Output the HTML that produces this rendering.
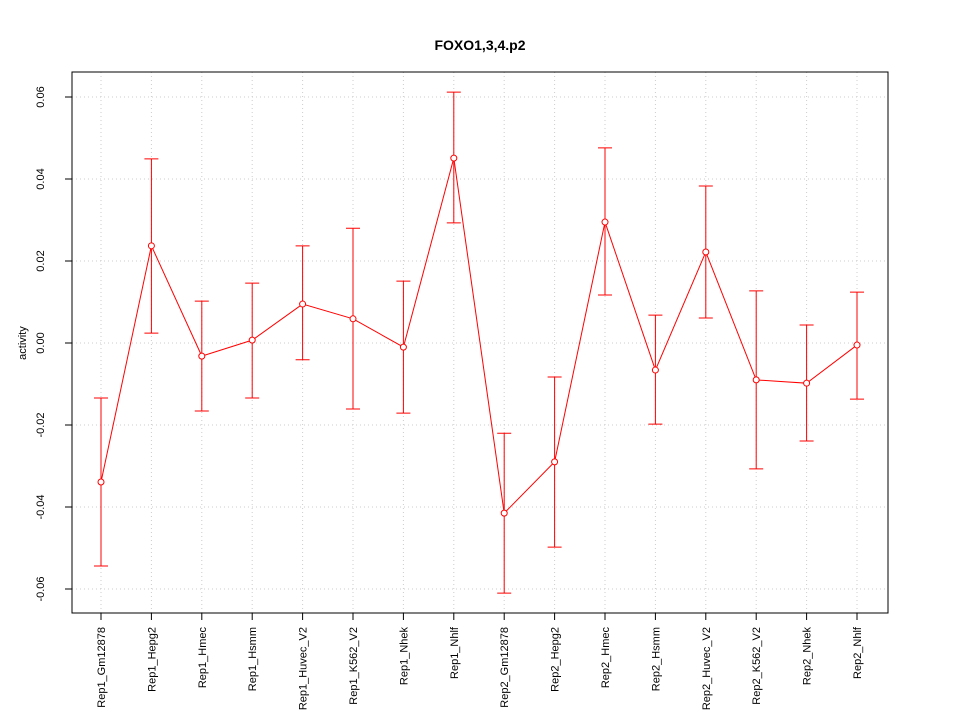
<!DOCTYPE html>
<html><head><meta charset="utf-8"><style>
body{margin:0;background:#fff}
svg text{font-family:"Liberation Sans",sans-serif}
</style></head><body>
<svg id="chart" width="960" height="720" xmlns="http://www.w3.org/2000/svg">
<rect width="960" height="720" fill="#fff"/>
<text x="480" y="50" text-anchor="middle" font-size="14" font-weight="bold">FOXO1,3,4.p2</text>
<text transform="translate(26,343) rotate(-90)" text-anchor="middle" font-size="11">activity</text>
<g id="grid"></g><g id="axes"></g><g id="marks"></g>
<rect x="72" y="72" width="816" height="541" fill="none" stroke="#000"/>
</svg>
<script>
const categories=["Rep1_Gm12878","Rep1_Hepg2","Rep1_Hmec","Rep1_Hsmm","Rep1_Huvec_V2","Rep1_K562_V2","Rep1_Nhek","Rep1_Nhlf","Rep2_Gm12878","Rep2_Hepg2","Rep2_Hmec","Rep2_Hsmm","Rep2_Huvec_V2","Rep2_K562_V2","Rep2_Nhek","Rep2_Nhlf"];
const values=[-0.0339,0.0237,-0.0032,0.0007,0.0095,0.0059,-0.001,0.0451,-0.0415,-0.029,0.0295,-0.0066,0.0222,-0.009,-0.0098,-0.0005];
const upper=[-0.0134,0.0449,0.0102,0.0146,0.0237,0.0280,0.0151,0.0612,-0.022,-0.0083,0.0476,0.0068,0.0383,0.0127,0.0044,0.0124];
const lower=[-0.0544,0.0024,-0.0166,-0.0134,-0.0041,-0.0161,-0.0171,0.0293,-0.061,-0.0498,0.0117,-0.0198,0.0061,-0.0307,-0.0239,-0.0137];
const yTicks=[-0.06,-0.04,-0.02,0,0.02,0.04,0.06];
const yLabels=["-0.06","-0.04","-0.02","0.00","0.02","0.04","0.06"];
const NS="http://www.w3.org/2000/svg";
const X=i=>101+i*(857-101)/(categories.length-1);
const Y=v=>343-v*4100;
function mk(p,t,a){const e=document.createElementNS(NS,t);for(const k in a)e.setAttribute(k,a[k]);document.getElementById(p).appendChild(e);return e;}
yTicks.forEach((v,i)=>{
 let g=mk("grid","line",{x1:72,x2:888,y1:Y(v),y2:Y(v),stroke:"#ccc","stroke-dasharray":"1,3"});
 
 
 let t=mk("axes","line",{x1:65,x2:72,y1:Y(v),y2:Y(v),stroke:"#000"});
 
 
 let l=mk("axes","text",{transform:`translate(44,${Y(v)}) rotate(-90)`,"text-anchor":"middle","font-size":"11"});
 l.textContent=yLabels[i];
 
 
});
categories.forEach((c,i)=>{
 let g=mk("grid","line",{x1:X(i),x2:X(i),y1:72,y2:613,stroke:"#ccc","stroke-dasharray":"1,3"});
 
 
 let t=mk("axes","line",{x1:X(i),x2:X(i),y1:613,y2:620,stroke:"#000"});
 
 
 let l=mk("axes","text",{transform:`translate(${X(i)+4},627) rotate(-90)`,"text-anchor":"end","font-size":"11"});
 l.textContent=c;
 
 
});
let pts=values.map((v,i)=>X(i)+","+Y(v)).join(" ");
let pl=mk("marks","polyline",{points:pts,fill:"none",stroke:"#f00"});


values.forEach((v,i)=>{
 let x=X(i);
 let e=mk("marks","path",{d:`M${x},${Y(upper[i])}V${Y(lower[i])}M${x-7},${Y(upper[i])}H${x+7}M${x-7},${Y(lower[i])}H${x+7}`,stroke:"#f00",fill:"none"});
 
 
 let p=mk("marks","circle",{cx:x,cy:Y(v),r:3,fill:"#fff",stroke:"#f00"});
 
 
});
</script>
</body></html>
